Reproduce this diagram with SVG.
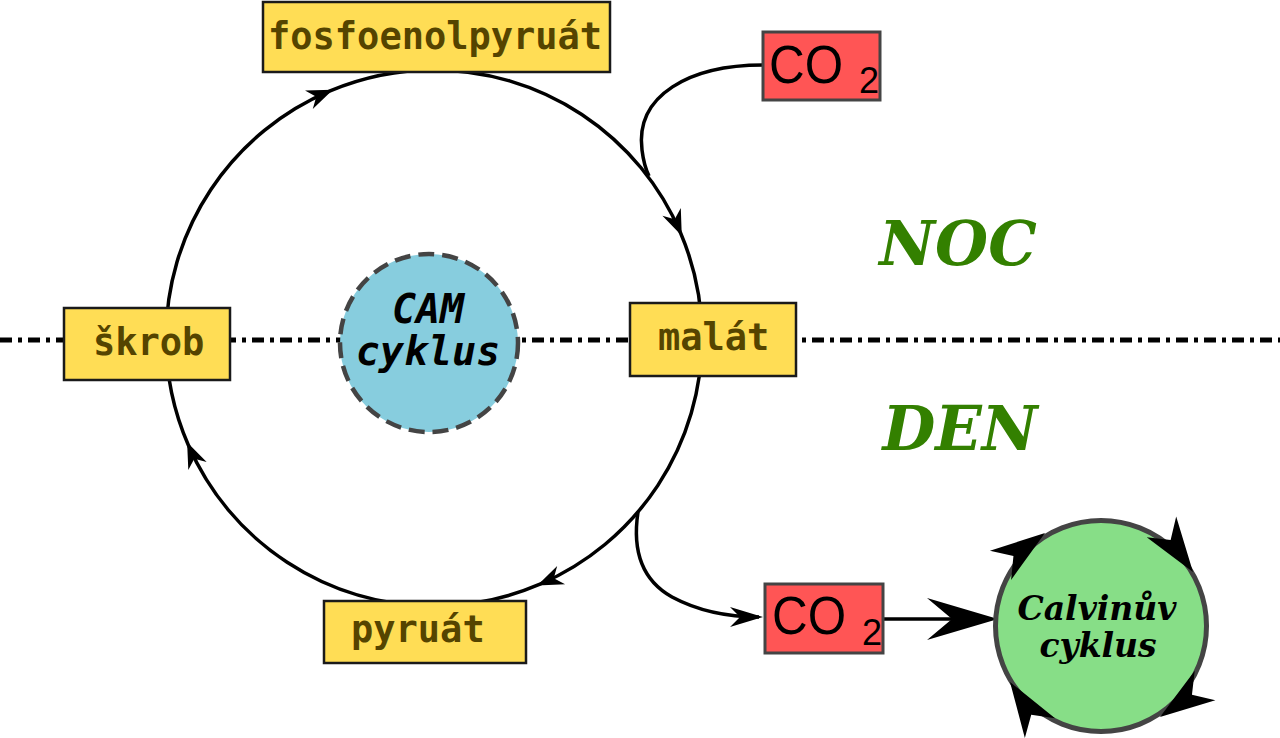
<svg xmlns="http://www.w3.org/2000/svg" width="1280" height="738" viewBox="0 0 1280 738">
<style>
.box{fill:#ffdd55;stroke:#1a1a1a;stroke-width:2.5}
.co2{fill:#ff5555;stroke:#444444;stroke-width:3}
.mono{font-family:"DejaVu Sans Mono","Liberation Mono",monospace;font-weight:bold;font-size:37px;fill:#554400}
.cam{font-family:"DejaVu Sans Mono","Liberation Mono",monospace;font-weight:bold;font-style:italic;font-size:40px;fill:#000000;text-anchor:middle}
.serif{font-family:"DejaVu Serif","Liberation Serif",serif;font-weight:bold;font-style:italic}
.phase{font-size:61px;fill:#338000;text-anchor:middle}
.calv{font-size:33px;fill:#000000;text-anchor:middle}
.sans{font-family:"Liberation Sans",Arial,sans-serif;fill:#000000}
.conn{fill:none;stroke:#000000;stroke-width:3.5}
</style>
<defs>
<marker id="sm" markerUnits="userSpaceOnUse" viewBox="-30 -13 36 26" markerWidth="36" markerHeight="26" refX="-3" refY="0" orient="auto">
<path d="M0,0 L-26,-10 L-18,0 L-26,10 Z" fill="#000000"/>
</marker>
<marker id="md" markerUnits="userSpaceOnUse" viewBox="-36 -13 42 26" markerWidth="42" markerHeight="26" refX="-4" refY="0" orient="auto">
<path d="M0,0 L-33,-10 L-23,0 L-33,10 Z" fill="#000000"/>
</marker>
<marker id="lg" markerUnits="userSpaceOnUse" viewBox="-75 -24 85 48" markerWidth="85" markerHeight="48" refX="-8" refY="0" orient="auto">
<path d="M0,0 L-71,-21 L-46,0 L-71,21 Z" fill="#000000"/>
</marker>
<path id="bigHead" d="M0,0 L-55,-18 L-39,0 L-55,18 Z" fill="#000000"/>
</defs>

<g id="day-night-line">
<line x1="0" y1="340" x2="1280" y2="340" stroke="#000000" stroke-width="5" stroke-dasharray="12 6 4 6"/>
</g>

<g id="connectors">
<path class="conn" marker-mid="url(#sm)" d="M166,338 A268,268 0 0 1 330.1,90.9 A268,268 0 0 1 434,70"/>
<path class="conn" marker-mid="url(#sm)" d="M434,70 A268,268 0 0 1 680.6,233 A268,268 0 0 1 702,338"/>
<path class="conn" marker-mid="url(#sm)" d="M702,338 A268,268 0 0 1 540,584.2 A268,268 0 0 1 434,606"/>
<path class="conn" marker-mid="url(#sm)" d="M434,606 A268,268 0 0 1 188.3,445 A268,268 0 0 1 166,338"/>
<path class="conn" d="M763,65 C690,65 635,95 642,150 C643.5,162 645,168 649,176"/>
<path class="conn" marker-end="url(#md)" d="M638,512 C633,545 638,578 672,597 C700,612 728,617 759,617"/>
<path class="conn" stroke-width="4" marker-end="url(#lg)" d="M882,619 L990,619"/>
</g>

<g id="fosfoenolpyruat">
<rect class="box" x="263" y="2" width="347" height="70"/>
<text class="mono" x="268" y="49">fosfoenolpyruát</text>
</g>

<g id="skrob">
<rect class="box" x="64" y="308" width="166" height="72"/>
<text class="mono" x="93" y="355">škrob</text>
</g>

<g id="malat">
<rect class="box" x="630" y="303" width="166" height="73"/>
<text class="mono" x="658" y="350">malát</text>
</g>

<g id="pyruat">
<rect class="box" x="324" y="601" width="202" height="62"/>
<text class="mono" x="351" y="642">pyruát</text>
</g>

<g id="cam-cyklus">
<circle cx="429" cy="343" r="89" fill="#87cdde" stroke="#444444" stroke-width="4.5" stroke-dasharray="16 8"/>
<text class="cam" x="428" y="323">CAM</text>
<text class="cam" x="428" y="365">cyklus</text>
</g>

<g id="co2-noc">
<rect class="co2" x="763" y="32" width="117" height="68"/>
<text class="sans" x="769" y="83" font-size="54" textLength="74" lengthAdjust="spacingAndGlyphs">CO</text>
<text class="sans" x="859" y="93" font-size="36">2</text>
</g>

<g id="co2-den">
<rect class="co2" x="765" y="584" width="118" height="69"/>
<text class="sans" x="772" y="634" font-size="54" textLength="74" lengthAdjust="spacingAndGlyphs">CO</text>
<text class="sans" x="862" y="645" font-size="36">2</text>
</g>

<g id="noc">
<text class="serif phase" x="958" y="265">NOC</text>
</g>

<g id="den">
<text class="serif phase" x="960" y="450">DEN</text>
</g>

<g id="calvinuv-cyklus">
<circle cx="1101" cy="626" r="105.5" fill="#87de87" stroke="#444444" stroke-width="5"/>
<use href="#bigHead" transform="translate(1045,533) rotate(-36)"/>
<use href="#bigHead" transform="translate(1193,572) rotate(55)"/>
<use href="#bigHead" transform="translate(1160,717) rotate(145)"/>
<use href="#bigHead" transform="translate(1010,682) rotate(237)"/>
<text class="serif calv" x="1097" y="620">Calvinův</text>
<text class="serif calv" x="1098" y="657">cyklus</text>
</g>
</svg>
